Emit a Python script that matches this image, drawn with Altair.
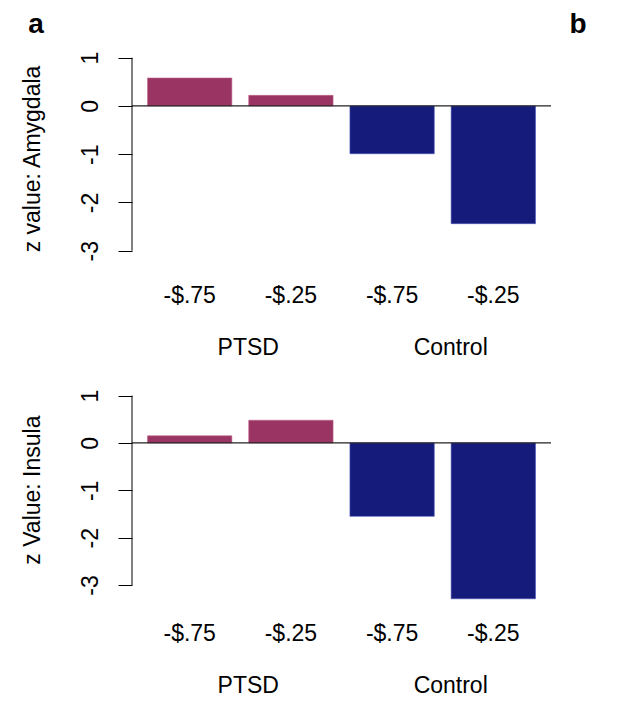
import altair as alt
import pandas as pd

# ---- data ----
bar_labels = ["-$.75", "-$.25", "-$.75", "-$.25"]
groups = ["PTSD", "PTSD", "Control", "Control"]
amygdala = [0.58, 0.22, -0.99, -2.44]
insula = [0.15, 0.48, -1.55, -3.29]
y_ticks = [-3, -2, -1, 0, 1]

MAROON = "#9a3462"
NAVY = "#141b7b"
FONT = "Liberation Sans"
FS = 23

W = 419
H_TOP = 220
H_BOT = 216

# R barplot default layout: width 1, space 0.2
idx = list(range(len(bar_labels)))
x0 = [0.2 + 1.2 * i for i in idx]
x1 = [v + 1.0 for v in x0]
xc = [v + 0.5 for v in x0]
xmin = min(x0) - 0.04 * (max(x1) - min(x0))
xmax = max(x1) + 0.04 * (max(x1) - min(x0))

df = pd.DataFrame({
    "id": idx, "label": bar_labels, "grp": groups,
    "amy": amygdala, "ins": insula,
    "x0": x0, "x1": x1, "xc": xc,
})

xscale = alt.Scale(domain=[xmin, xmax], nice=False, zero=False)
yscale = alt.Scale(domain=[-3.4, 1.16], nice=False, zero=False)
color = alt.Color("grp:N", scale=alt.Scale(domain=["PTSD", "Control"], range=[MAROON, NAVY]), legend=None)
stroke = alt.Stroke("grp:N", scale=alt.Scale(domain=["PTSD", "Control"], range=["#c0648c", "#4a55b8"]), legend=None)


def panel(field, title, height, title_y, letters):
    base = alt.Chart(df)
    yaxis = alt.Axis(
        values=y_ticks, labelExpr="datum.value + ''", labelAngle=270,
        labelAlign="center", labelBaseline="bottom", labelFontSize=FS,
        labelFont=FONT, labelColor="black", labelPadding=16, tickSize=14,
        tickColor="black", domain=False, grid=False, title=title,
        titleFont=FONT, titleFontSize=FS, titleFontWeight="normal",
        titleColor="black", titleX=-93, titleY=title_y,
        titleBaseline="alphabetic", titleAngle=270, titleAlign="center",
    )
    bars = base.mark_bar(strokeWidth=0.6).encode(
        x=alt.X("x0:Q", scale=xscale, axis=None),
        x2="x1:Q",
        y=alt.Y(f"{field}:Q", scale=yscale, axis=yaxis),
        y2=alt.datum(0),
        color=color,
        stroke=stroke,
    )
    zero = alt.Chart(alt.Data(values=[{"v": 0}])).mark_rule(color="#222", strokeWidth=1.2).encode(
        y=alt.Y("v:Q", scale=yscale)
    )
    yline = alt.Chart(alt.Data(values=[{"a": 1, "b": -3}])).mark_rule(color="black", strokeWidth=1).encode(
        x=alt.value(0), y=alt.Y("a:Q", scale=yscale), y2="b:Q"
    )
    xlab = base.mark_text(fontSize=FS, font=FONT, color="black", baseline="middle").encode(
        x=alt.X("xc:Q", scale=xscale), y=alt.value(246), text="label:N"
    )
    glab = base.transform_aggregate(xm="mean(xc)", groupby=["grp"]).mark_text(
        fontSize=FS, font=FONT, color="black", baseline="middle", dx=8
    ).encode(x=alt.X("xm:Q", scale=xscale), y=alt.value(297.5), text="grp:N")
    layers = [bars, zero, yline, xlab, glab]
    if letters:
        let = alt.Chart(alt.Data(values=[{"t": "a", "px": -96}, {"t": "b", "px": 446}])).mark_text(
            fontSize=28, font=FONT, fontWeight="bold", color="black", baseline="alphabetic"
        ).encode(x=alt.X("px:Q", scale=None), y=alt.value(-17), text="t:N")
        layers.append(let)
    return alt.layer(*layers).properties(width=W, height=height)


top = panel("amy", "z value: Amygdala", H_TOP, 108.5, True)
bot = panel("ins", "z Value: Insula", H_BOT, 101.6, False)

chart = alt.vconcat(top, bot, spacing=28).properties(
    padding={"left": 12, "top": 3, "right": 0, "bottom": 0}
).configure_view(strokeWidth=0)
chart.save("out.html", embed_options={"renderer": "svg", "actions": False})
